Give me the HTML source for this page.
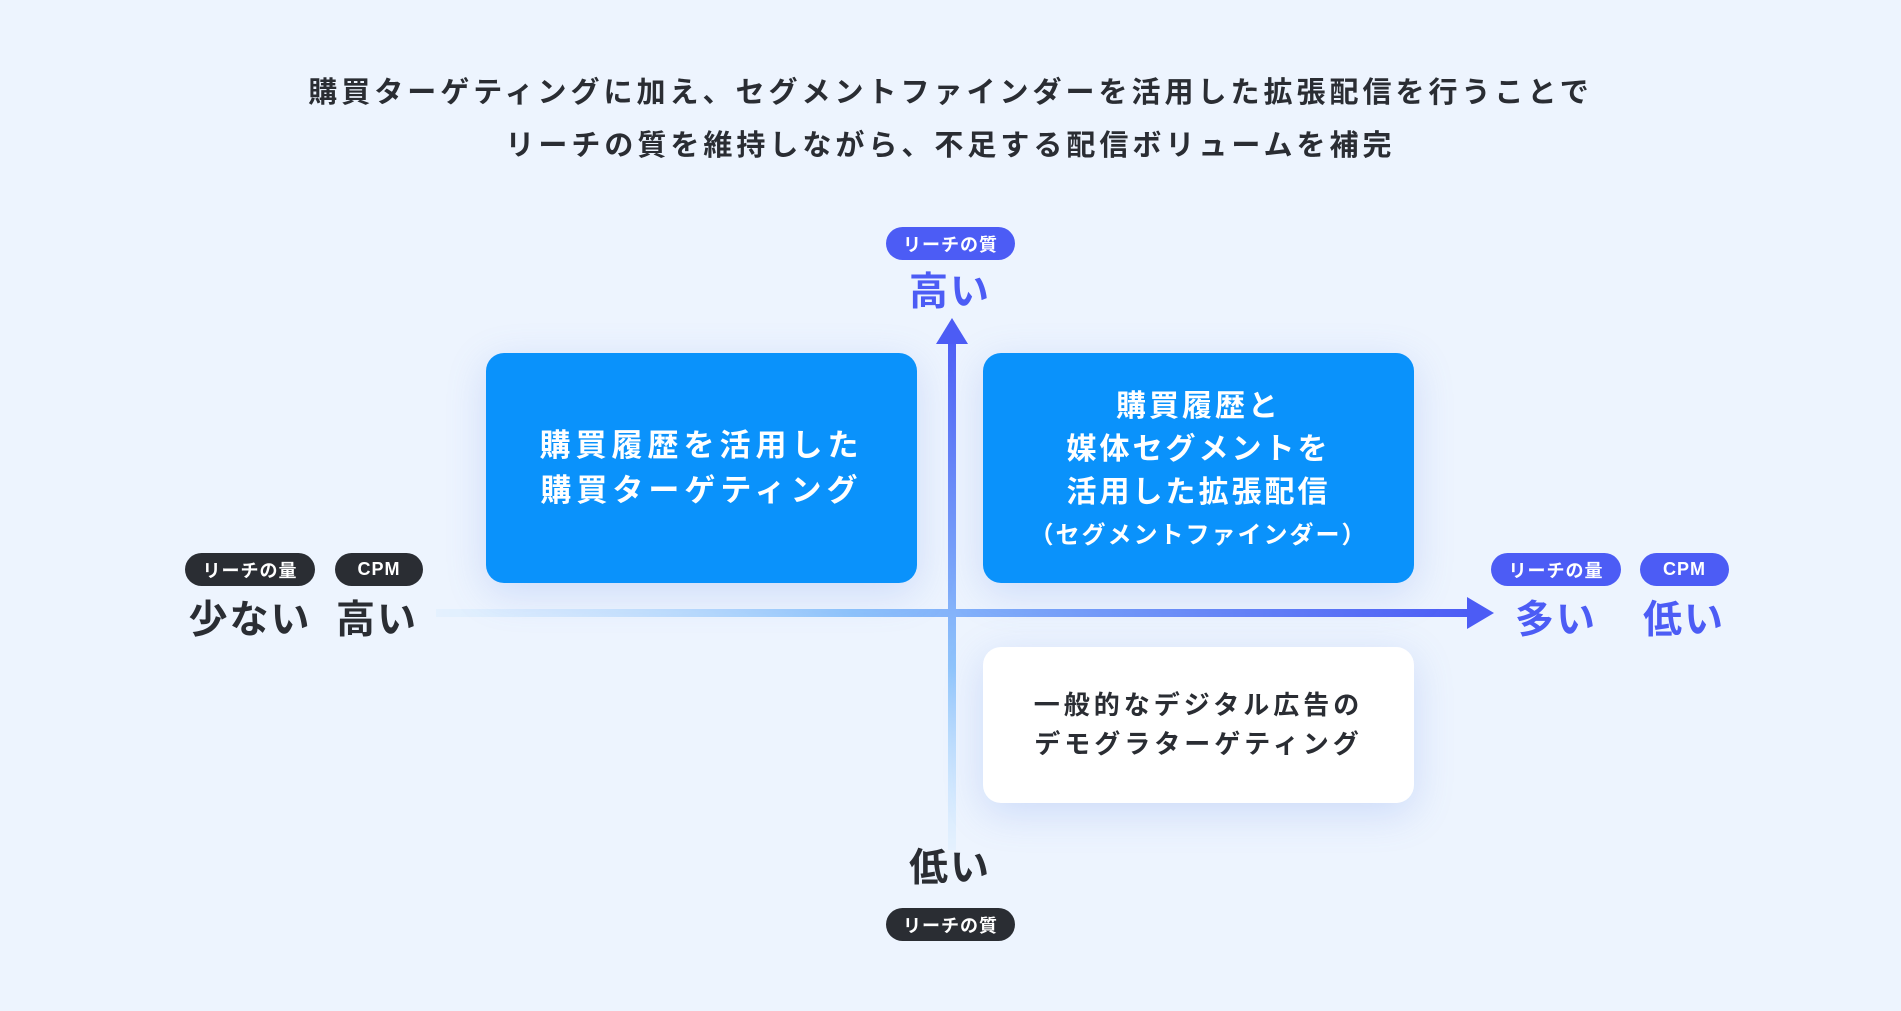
<!DOCTYPE html>
<html><head><meta charset="utf-8"><style>
*{margin:0;padding:0;box-sizing:border-box}
body{width:1901px;height:1011px;background:#edf4fe;font-family:"Liberation Sans","Noto Sans CJK JP",sans-serif;position:relative;overflow:hidden;color:#2a2d33}
.a{position:absolute}
.t{left:0;width:1901px;text-align:center;font-size:29px;font-weight:700;letter-spacing:4px;color:#2a2d33}
.pill{position:absolute;height:33px;border-radius:17px;color:#fff;font-size:18px;font-weight:700;display:flex;align-items:center;justify-content:center;letter-spacing:1px}
.ind{background:#4c5cf5}.dk{background:#2a2d33}
.lbl{position:absolute;font-size:39px;font-weight:700;text-align:center;line-height:1;letter-spacing:2px}
.box{position:absolute;border-radius:18px;display:flex;flex-direction:column;align-items:center;justify-content:center;font-weight:700;text-align:center;box-shadow:0 10px 40px rgba(90,130,230,.22)}
.blue{background:#0a92fb;color:#fff}
.white{background:#fff;color:#2a2d33}
</style></head><body>
<div class="a t" style="top:69px">購買ターゲティングに加え、セグメントファインダーを活用した拡張配信を行うことで</div>
<div class="a t" style="top:122px">リーチの質を維持しながら、不足する配信ボリュームを補完</div>

<svg class="a" style="left:0;top:0" width="1901" height="1011">
<defs>
<linearGradient id="gh" x1="436" y1="0" x2="1470" y2="0" gradientUnits="userSpaceOnUse"><stop offset="0" stop-color="#cfe9ff" stop-opacity="0.3"/><stop offset="0.4" stop-color="#8fc4fb"/><stop offset="1" stop-color="#4c5cf5"/></linearGradient>
<linearGradient id="gv" x1="0" y1="850" x2="0" y2="330" gradientUnits="userSpaceOnUse"><stop offset="0" stop-color="#cfe9ff" stop-opacity="0.3"/><stop offset="0.35" stop-color="#8fc4fb"/><stop offset="1" stop-color="#4c5cf5"/></linearGradient>
</defs>
<rect x="436" y="609" width="1034" height="8" fill="url(#gh)"/>
<polygon points="1467,597 1494,613 1467,629" fill="#4c5cf5"/>
<rect x="948" y="340" width="8" height="510" fill="url(#gv)"/>
<polygon points="936,344 952,318 968,344" fill="#4c5cf5"/>
</svg>

<div class="pill ind" style="left:886px;top:227px;width:129px">リーチの質</div>
<div class="lbl" style="left:880px;width:140px;top:273px;color:#4c5cf5">高い</div>

<div class="box blue" style="left:486px;top:353px;width:431px;height:230px;font-size:31px;line-height:45px;letter-spacing:5px">
<div>購買履歴を活用した</div><div>購買ターゲティング</div></div>
<div class="box blue" style="left:983px;top:353px;width:431px;height:230px;font-size:30px;line-height:43px;letter-spacing:3px;padding-top:6px">
<div>購買履歴と</div><div>媒体セグメントを</div><div>活用した拡張配信</div><div style="font-size:24px;letter-spacing:2px">（セグメントファインダー）</div></div>
<div class="box white" style="left:983px;top:647px;width:431px;height:156px;font-size:26px;line-height:39px;letter-spacing:4px">
<div>一般的なデジタル広告の</div><div>デモグラターゲティング</div></div>

<div class="pill dk" style="left:185px;top:553px;width:130px">リーチの量</div>
<div class="pill dk" style="left:335px;top:553px;width:88px">CPM</div>
<div class="lbl" style="left:180px;width:140px;top:601px">少ない</div>
<div class="lbl" style="left:327px;width:100px;top:601px">高い</div>

<div class="pill ind" style="left:1491px;top:553px;width:130px">リーチの量</div>
<div class="pill ind" style="left:1640px;top:553px;width:89px">CPM</div>
<div class="lbl" style="left:1506px;width:100px;top:601px;color:#4c5cf5">多い</div>
<div class="lbl" style="left:1634px;width:100px;top:601px;color:#4c5cf5">低い</div>

<div class="lbl" style="left:880px;width:140px;top:849px">低い</div>
<div class="pill dk" style="left:886px;top:908px;width:129px">リーチの質</div>
</body></html>
